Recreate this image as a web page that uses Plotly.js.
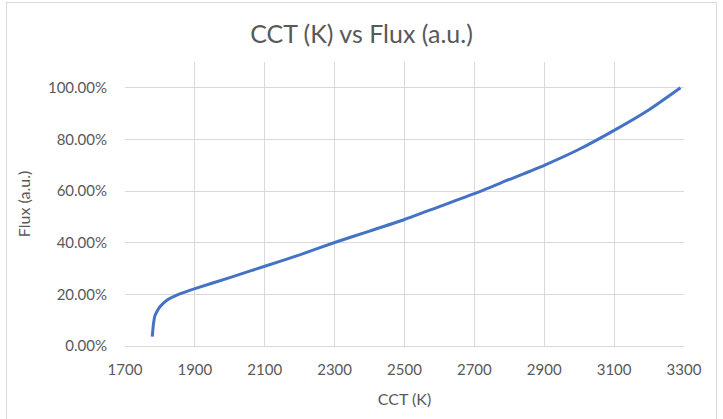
<!DOCTYPE html>
<html><head><meta charset="utf-8">
<script src="https://cdn.plot.ly/plotly-3.0.1.min.js"></script>
<style>
html,body{margin:0;padding:0;background:#fff;}
#frame{position:absolute;left:6px;top:2px;width:711px;height:420px;border:1px solid #D9D9D9;box-sizing:border-box;}
#chart{position:absolute;left:0;top:0;width:723px;height:419px;}
</style></head>
<body>
<div id="frame"></div>
<div id="chart"></div>
<script>
const cct = [1778, 1781, 1785, 1790, 1800, 1820, 1850, 1900, 2000, 2100, 2200, 2300, 2400, 2500, 2600, 2700, 2800, 2900, 3000, 3100, 3200, 3290];
const flux = [0.036, 0.08, 0.115, 0.13, 0.152, 0.177, 0.198, 0.222, 0.265, 0.309, 0.353, 0.401, 0.445, 0.49, 0.54, 0.59, 0.645, 0.70, 0.762, 0.835, 0.915, 1.0];
const xTicks = [1700, 1900, 2100, 2300, 2500, 2700, 2900, 3100, 3300];
const yTicks = [0, 0.2, 0.4, 0.6, 0.8, 1.0];

const font = "Lato, 'Open Sans', sans-serif";
Plotly.newPlot('chart', [{
  x: cct, y: flux, type: 'scatter', mode: 'lines',
  line: {color: '#4472C4', width: 3, shape: 'spline', smoothing: 0.6},
  hoverinfo: 'skip'
}], {
  width: 723, height: 419,
  paper_bgcolor: 'rgba(0,0,0,0)', plot_bgcolor: 'rgba(0,0,0,0)',
  margin: {l: 125, r: 39, t: 62, b: 73},
  showlegend: false,
  font: {family: font, color: '#595959', size: 15},
  title: {text: 'CCT (K) vs Flux (a.u.)', font: {family: font, size: 25, color: '#595959'}, x: 0.5, xanchor: 'center', y: 0.919, yanchor: 'middle'},
  xaxis: {
    range: [1700, 3300], tickvals: xTicks, ticktext: xTicks.map(String),
    showgrid: true, gridcolor: '#D9D9D9', gridwidth: 1,
    showline: true, linecolor: '#D9D9D9', linewidth: 1,
    zeroline: false, ticks: '', ticklabelstandoff: 10,
    tickfont: {family: font, size: 15, color: '#595959'},
    title: {text: 'CCT (K)', font: {family: font, size: 16, color: '#595959'}, standoff: 16}
  },
  yaxis: {
    range: [0, 1.1], tickvals: yTicks, tickformat: '.2%',
    showgrid: true, gridcolor: '#D9D9D9', gridwidth: 1,
    showline: false, zeroline: false, ticks: '', ticklabelstandoff: 17,
    tickfont: {family: font, size: 15, color: '#595959'},
    title: {text: 'Flux (a.u.)', font: {family: font, size: 16, color: '#595959'}, standoff: 13}
  }
}, {staticPlot: true, displayModeBar: false});
</script>
</body></html>
